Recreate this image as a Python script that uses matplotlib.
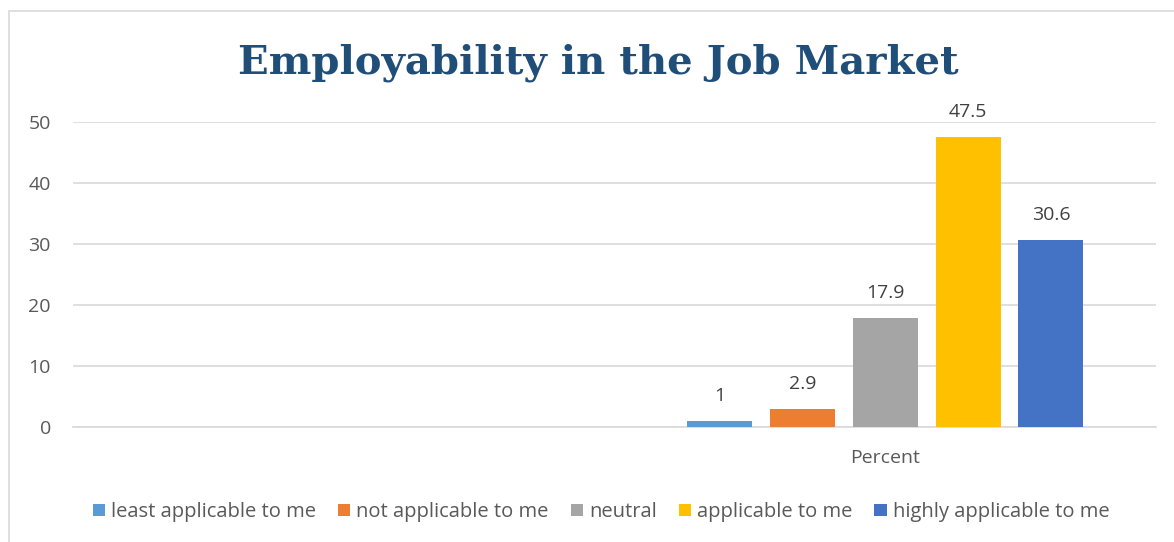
import matplotlib
matplotlib.use("Agg")
import matplotlib.pyplot as plt
from matplotlib.patches import Rectangle
import numpy as np

# data
categories = ["", "Percent"]
series = ["least applicable to me", "not applicable to me", "neutral",
          "applicable to me", "highly applicable to me"]
values = [1, 2.9, 17.9, 47.5, 30.6]  # only the "Percent" category has data
colors = ["#5B9BD5", "#ED7D31", "#A5A5A5", "#FFC000", "#4472C4"]
yticks = [0, 10, 20, 30, 40, 50]

plt.rcParams['font.family'] = ['Open Sans', 'DejaVu Sans']

fig = plt.figure(figsize=(11.74, 5.42), dpi=100)
ax = fig.add_axes([73 / 1174, 1 - 427 / 542, 1083 / 1174, 305 / 542])

# chart border
fig.patches.append(Rectangle((9 / 1174, -0.1), 1.2, 1 - 11 / 542 + 0.1,
                             transform=fig.transFigure, fill=False,
                             edgecolor="#D9D9D9", lw=1.2))

width = 0.12
step = 0.153
x = np.arange(len(categories))
for i, (name, val, col) in enumerate(zip(series, values, colors)):
    off = (i - 2) * step
    ax.bar(x[1] + off, val, width=width, color=col, label=name, zorder=3)
    ax.text(x[1] + off, val + 2.6, f"{val:g}", ha="center", va="bottom",
            fontsize=14, color="#404040")

ax.set_xlim(-0.5, 1.5)
ax.set_ylim(0, 50)
ax.set_yticks(yticks)
ax.set_xticks(x)
ax.set_xticklabels(categories)
ax.tick_params(axis="both", length=0, labelsize=14, labelcolor="#595959")
ax.tick_params(axis="y", pad=16)
ax.tick_params(axis="x", pad=16)
ax.grid(axis="y", color="#D9D9D9", lw=1.2, zorder=0)
for s in ["top", "right", "left"]:
    ax.spines[s].set_visible(False)
ax.spines["bottom"].set_color("#D9D9D9")
ax.spines["bottom"].set_linewidth(1.2)

fig.text(598 / 1174, 1 - 63 / 542, "Employability in the Job Market",
         ha="center", va="center", fontsize=29, fontweight="bold",
         family="DejaVu Serif", color="#1F4E79")

fig.legend(loc="center", bbox_to_anchor=(601 / 1174, 1 - 512 / 542), ncol=5,
           frameon=False, fontsize=14.5, handlelength=0.6, handleheight=0.6,
           handletextpad=0.3, columnspacing=1.1, labelcolor="#595959")

fig.savefig("out.png", dpi=100)
